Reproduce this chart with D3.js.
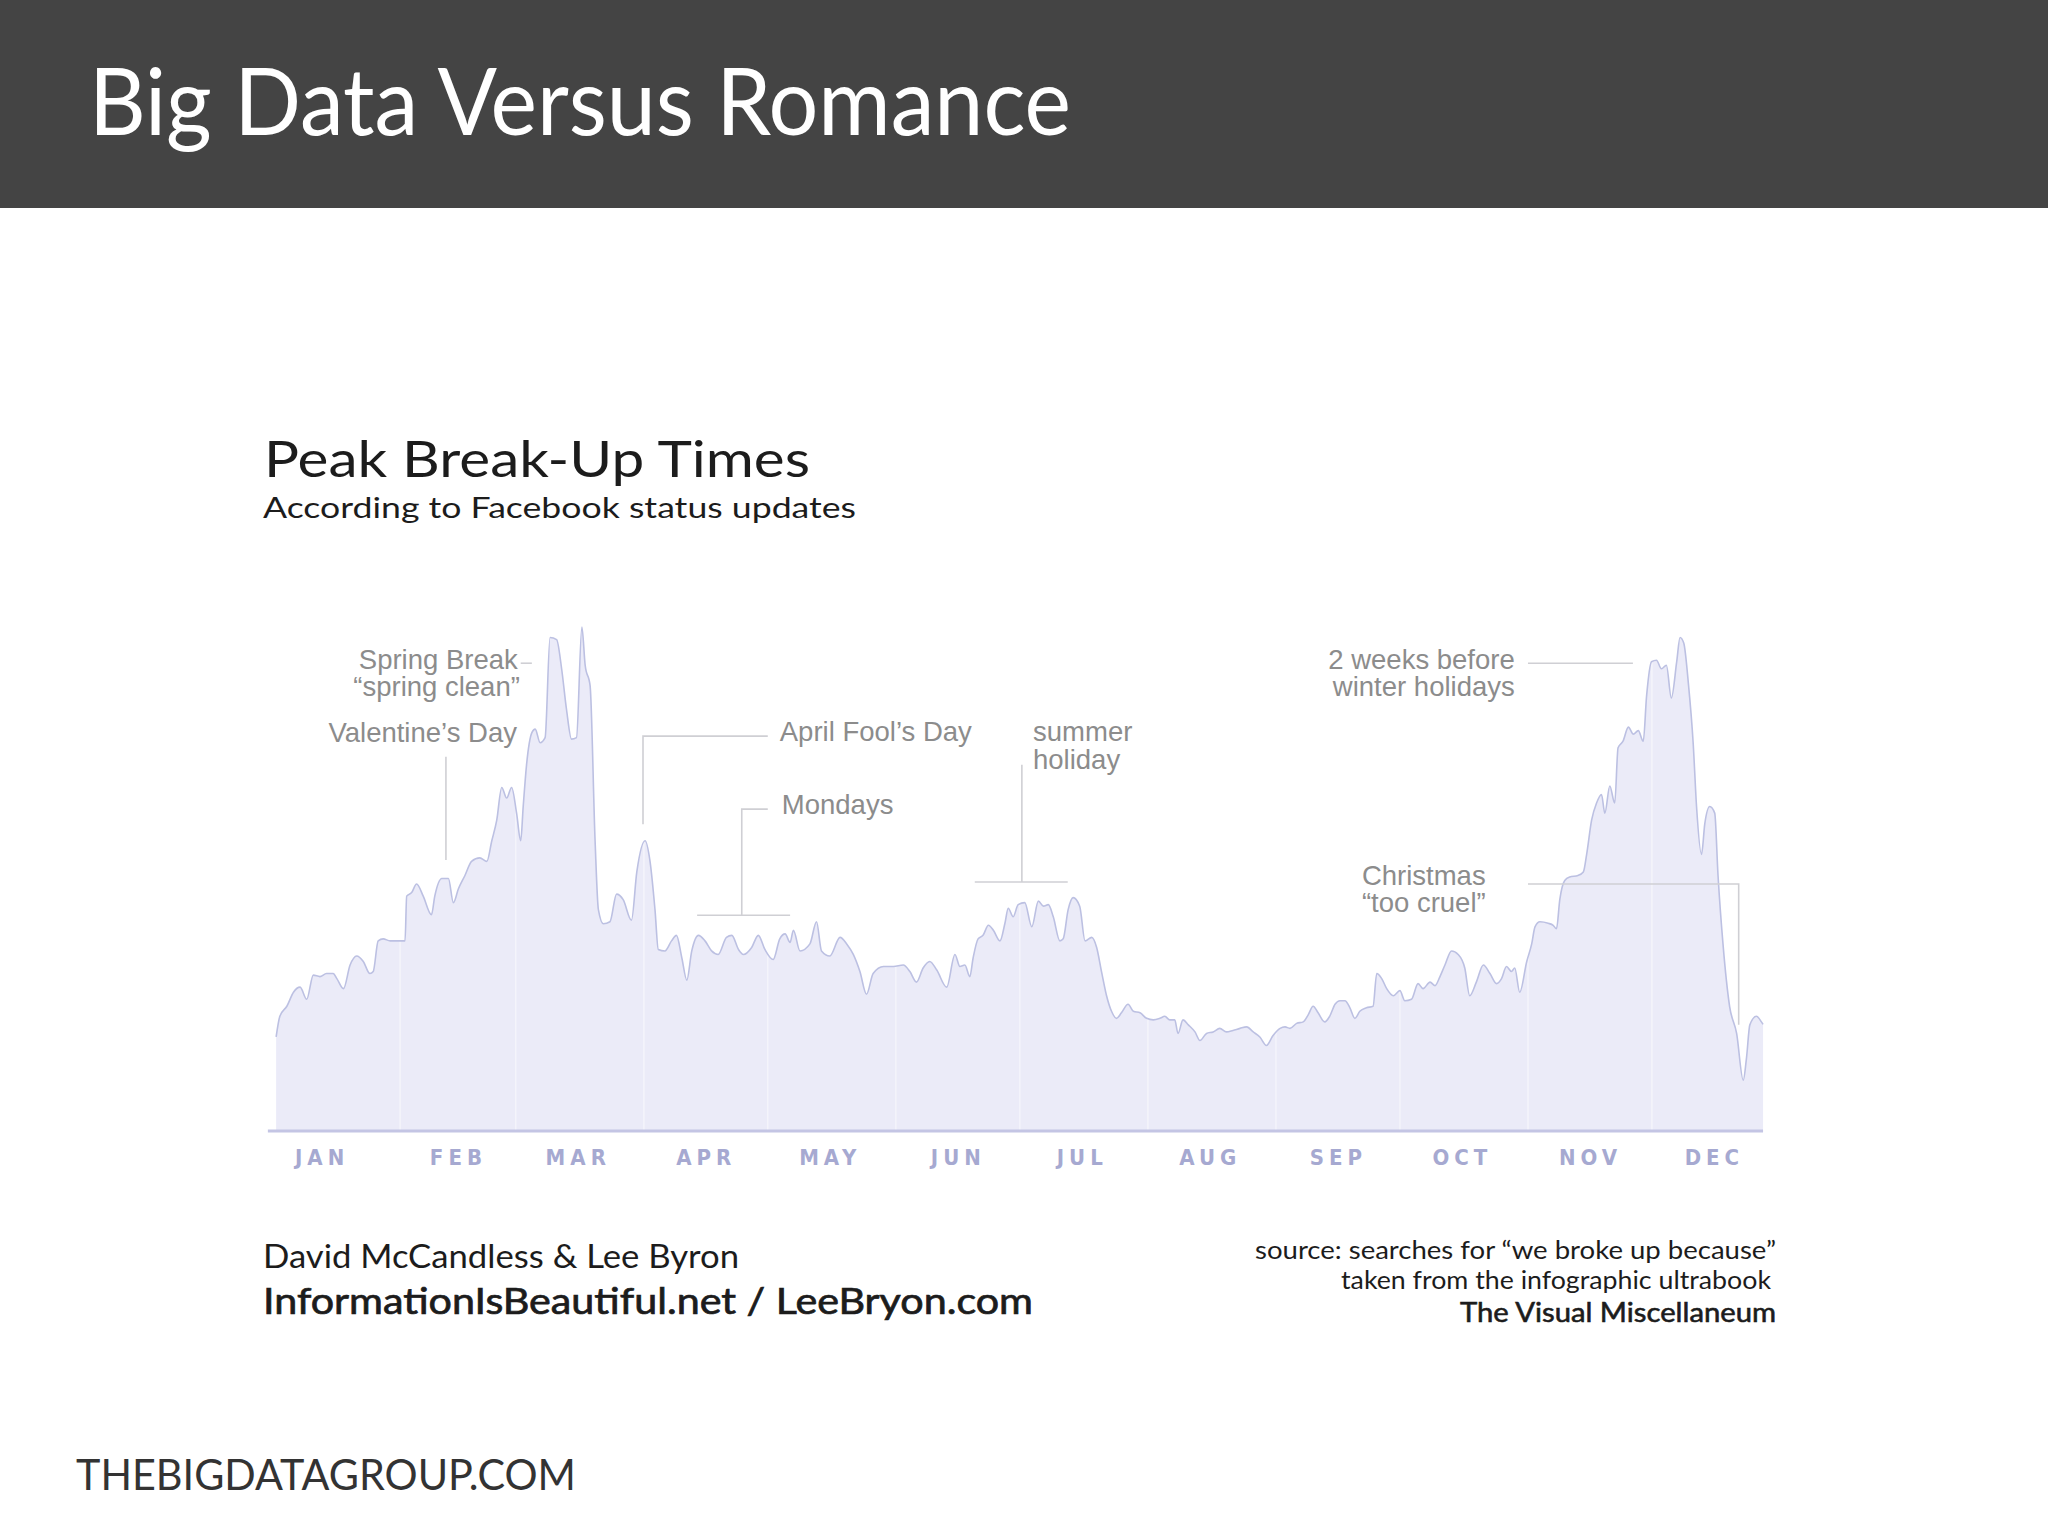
<!DOCTYPE html>
<html><head><meta charset="utf-8">
<script src="https://cdn.jsdelivr.net/npm/d3@7"></script>
<style>html,body{margin:0;padding:0;background:#fff;} svg{display:block;}</style>
</head><body>
<svg id="c" width="2048" height="1536"></svg>
<script>
// ---- data (day of year, relative break-up index; peak = 100) ----
const days = [1.0,1.9,3.6,5.2,6.8,8.4,10.0,11.6,13.2,14.8,15.7,17.3,18.9,20.5,22.1,23.7,24.5,25.7,26.9,28.6,30.2,32.2,32.6,33.8,35.0,36.6,38.6,39.4,41.1,42.7,43.9,45.1,46.7,48.3,50.3,52.0,53.2,54.4,55.6,56.8,58.0,59.2,60.2,60.8,61.6,62.9,63.7,64.9,66.1,67.3,68.9,70.1,71.3,72.5,73.7,75.0,75.8,77.0,78.2,79.0,80.2,81.8,83.4,85.0,87.0,88.3,90.3,91.5,
92.7,93.5,95.1,96.7,97.9,99.2,100.4,101.6,103.2,104.8,106.4,108.0,110.0,111.3,112.9,114.1,116.1,117.7,119.3,121.3,122.9,124.2,125.4,126.2,127.8,130.2,131.8,133.0,135.0,137.5,139.1,140.7,142.3,143.9,145.5,148.0,150.4,152.8,154.4,156.0,157.6,159.2,160.9,163.3,165.3,166.5,167.7,168.9,169.7,170.9,172.1,173.4,174.6,176.2,177.4,178.2,179.4,180.6,
182.2,183.9,185.5,186.7,187.9,189.1,190.7,191.5,192.7,193.9,195.5,196.8,198.4,199.6,200.8,202.0,203.2,204.4,205.6,207.2,208.5,210.1,211.7,213.3,214.9,216.1,217.3,218.5,219.3,220.5,221.8,223.4,224.6,226.2,227.8,229.4,231.0,232.6,234.3,235.9,237.5,239.1,240.7,242.3,244.0,245.2,246.4,248.0,249.6,250.8,252.0,253.2,254.8,256.0,257.3,258.5,259.7,260.9,262.1,263.3,264.9,266.5,267.4,268.6,
269.8,271.4,273.0,274.2,275.8,277.4,278.6,280.3,281.5,282.7,283.9,285.5,287.1,288.7,289.9,291.5,293.2,294.8,296.4,297.6,298.8,300.0,300.8,302.0,303.7,304.9,305.7,306.9,308.9,310.1,310.9,311.7,312.9,314.1,316.1,317.4,318.2,319.4,320.6,321.8,322.6,323.8,325.0,325.8,327.0,328.3,329.5,330.7,331.9,332.7,333.9,335.1,336.3,337.5,338.7,340.0,340.8,341.7,342.8,344.0,344.8,346.0,346.8,348.0,349.2,350.0,351.2,352.8,354.5,356.1,356.9,357.7,359.3,360.5,360.9];
const values = [18.5,22.6,24.6,27.4,28.4,26,30.8,30.5,31.1,31.1,30.1,28.1,32.8,34.6,33.5,31.1,31.5,37.6,38,37.6,37.6,37.6,46.5,47.2,48.9,46.5,42.8,46.5,50,50,45.2,47.9,50.6,53.4,54.1,53.4,57.5,61.6,68.1,66,68.1,63,57.5,64.3,72.5,79,79.7,77,78,97.9,97.5,91.7,83.5,77.7,78,100,92.4,88.3,57.5,43.8,41,41.4,46.9,45.8,41.7,51.3,57.5,53.4,
43.8,35.9,35.6,37.6,38.7,34.2,29.8,35.6,38.7,37.6,35.6,34.9,38.3,38.7,35.9,34.9,36.3,38.7,35.9,33.9,38,39,37.3,39.7,35.6,37,41.4,35.6,34.6,38.3,37,34.9,31.5,27.0,31.1,32.5,32.5,32.8,31.5,29.4,32.2,33.5,31.8,28.4,34.9,32.5,32.8,30.5,34.2,38,38.7,40.7,39.7,37.6,41.1,44.1,42.4,44.8,
45.2,40.4,45.5,44.5,44.8,42.4,37.6,38,43.8,46.2,44.5,37.6,38.3,36.3,31.4,26.7,23.6,22.2,23.3,25,23.6,23.3,22.2,21.9,22.2,22.6,21.9,21.9,19.2,21.9,20.9,19.5,17.8,19.2,19.5,20.2,19.5,19.8,20.2,20.5,19.5,18.5,16.8,18.8,20.2,20.5,20.2,21.2,21.5,22.9,24.6,23.3,21.5,22.6,25,25.7,25.7,24.3,22.2,23.6,24.3,24.6,31.1,30.1,
28.1,26.7,27.7,25.7,26,29.1,28.1,29.4,28.7,30.5,32.8,35.6,34.9,32.2,26.7,29.4,32.8,31.1,29.1,30.1,32.5,31.5,32.2,27.4,33.5,37,40.4,41.4,41.1,40.7,40,45.8,49.6,50.3,50.6,51.3,54.8,61.6,65,66.7,63,68.4,65,76,77.3,80.1,78.7,79.4,77.3,86.2,93.1,93.4,91.7,92.4,85.9,93.1,97.9,96.8,89,76.7,64.3,54.8,60.9,64.3,63,50.6,37,24.6,19.2,9.9,14.4,20.9,22.6,21.5,21];

const monthLabels = ["JAN","FEB","MAR","APR","MAY","JUN","JUL","AUG","SEP","OCT","NOV","DEC"];
const monthTickDays = [12,45,74,105,135,166,196,227,258,288,319,349];
const monthStartDays = [31,59,90,120,151,181,212,243,273,304,334];

// annotations in data units (day, value)
const annoTexts = [
  {t:"Spring Break", d:59.5, v:91.7, a:"end"},
  {t:"\u201Cspring clean\u201D", d:60.0, v:86.3, a:"end"},
  {t:"Valentine\u2019s Day", d:59.3, v:77.1, a:"end"},
  {t:"April Fool\u2019s Day", d:122.9, v:77.3, a:"start"},
  {t:"Mondays", d:123.4, v:62.9, a:"start"},
  {t:"summer", d:184.2, v:77.3, a:"start"},
  {t:"holiday", d:184.2, v:71.8, a:"start"},
  {t:"2 weeks before", d:300.8, v:91.7, a:"end"},
  {t:"winter holidays", d:300.8, v:86.3, a:"end"},
  {t:"Christmas", d:263.8, v:48.7, a:"start"},
  {t:"\u201Ctoo cruel\u201D", d:263.8, v:43.3, a:"start"}
];
const annoLines = [
  [[60.2,92.8],[62.9,92.8]],
  [[42.1,74.2],[42.1,53.7]],
  [[120.0,78.3],[89.8,78.3],[89.8,60.8]],
  [[120.0,63.8],[113.7,63.8],[113.7,42.7]],
  [[102.9,42.7],[125.4,42.7]],
  [[181.5,72.6],[181.5,49.3]],
  [[170.1,49.3],[192.6,49.3]],
  [[304.0,92.8],[329.4,92.8]],
  [[304.0,48.9],[355.0,48.9],[355.0,20.9]]
];

const data = days.map((d,i)=>({d, v:values[i]}));

const svg = d3.select("#c");
const x = d3.scaleLinear().domain([0,365]).range([272,1780]);
const y = d3.scaleLinear().domain([0,100]).range([1130,627]);

// header
svg.append("rect").attr("x",0).attr("y",0).attr("width",2048).attr("height",208).attr("fill","#444444");
svg.append("text").attr("x",89).attr("y",135)
  .attr("font-family","'Gill Sans','Lato',sans-serif").attr("font-size",94)
  .attr("fill","#fff").attr("textLength",982).attr("lengthAdjust","spacingAndGlyphs")
  .text("Big Data Versus Romance");

// chart titles
svg.append("text").attr("x",264).attr("y",477)
  .attr("font-family","Lato,sans-serif").attr("font-size",50).attr("fill","#1c1c1c")
  .attr("textLength",546).attr("lengthAdjust","spacingAndGlyphs").text("Peak Break-Up Times");
svg.append("text").attr("x",263).attr("y",518)
  .attr("font-family","Lato,sans-serif").attr("font-size",29).attr("fill","#1c1c1c")
  .attr("textLength",593).attr("lengthAdjust","spacingAndGlyphs").text("According to Facebook status updates");

// area
const area = d3.area().x(p=>x(p.d)).y0(y(0)).y1(p=>y(p.v)).curve(d3.curveMonotoneX);
const line = d3.line().x(p=>x(p.d)).y(p=>y(p.v)).curve(d3.curveMonotoneX);

svg.append("clipPath").attr("id","areaClip").append("path").attr("d",area(data));
svg.append("path").attr("d",area(data)).attr("fill","#ebebf8");
svg.append("g").attr("clip-path","url(#areaClip)")
  .selectAll("line").data(monthStartDays).join("line")
  .attr("x1",d=>x(d)).attr("x2",d=>x(d)).attr("y1",y(0)).attr("y2",y(100))
  .attr("stroke","#f4f4fb").attr("stroke-width",1.5);
svg.append("path").attr("d",line(data)).attr("fill","none")
  .attr("stroke","#bcc0e2").attr("stroke-width",1.6);

// baseline
svg.append("line").attr("x1",x(-1)).attr("x2",x(days[days.length-1]))
  .attr("y1",y(0)+1).attr("y2",y(0)+1).attr("stroke","#c4c5e4").attr("stroke-width",3);

// month axis
const axis = d3.axisBottom(x).tickValues(monthTickDays)
  .tickFormat((d,i)=>monthLabels[i]).tickSize(0).tickPadding(19);
const ag = svg.append("g").attr("transform",`translate(0,${y(0)})`).call(axis);
ag.select(".domain").remove();
ag.selectAll("text").attr("font-family","'Liberation Sans Narrow','DejaVu Sans Condensed',sans-serif")
  .attr("font-size",22).attr("fill","#a6a9d1").attr("letter-spacing",5).attr("font-weight","bold");

// annotations
const lg = d3.line().x(p=>x(p[0])).y(p=>y(p[1]));
svg.append("g").selectAll("path").data(annoLines).join("path")
  .attr("d",lg).attr("fill","none").attr("stroke","#cfcfd4").attr("stroke-width",1.6);
svg.append("g").selectAll("text").data(annoTexts).join("text")
  .attr("x",a=>x(a.d)).attr("y",a=>y(a.v)).attr("text-anchor",a=>a.a)
  .attr("font-family","'Liberation Sans',Arial,sans-serif").attr("font-size",27.5)
  .attr("fill","#8c8c8c").text(a=>a.t);

// credits
svg.append("text").attr("x",263).attr("y",1268)
  .attr("font-family","Lato,sans-serif").attr("font-size",33).attr("fill","#1c1c1c")
  .attr("textLength",476).attr("lengthAdjust","spacingAndGlyphs").text("David McCandless & Lee Byron");
svg.append("text").attr("x",263).attr("y",1314)
  .attr("font-family","Lato,sans-serif").attr("font-size",36).attr("fill","#1c1c1c")
  .attr("stroke","#1c1c1c").attr("stroke-width",0.7)
  .attr("textLength",770).attr("lengthAdjust","spacingAndGlyphs").text("InformationIsBeautiful.net / LeeBryon.com");
svg.append("text").attr("x",1776).attr("y",1259).attr("text-anchor","end")
  .attr("font-family","Lato,sans-serif").attr("font-size",25).attr("fill","#1c1c1c")
  .attr("textLength",521).attr("lengthAdjust","spacingAndGlyphs").text("source: searches for \u201Cwe broke up because\u201D");
svg.append("text").attr("x",1771).attr("y",1289).attr("text-anchor","end")
  .attr("font-family","Lato,sans-serif").attr("font-size",25).attr("fill","#1c1c1c")
  .attr("textLength",430).attr("lengthAdjust","spacingAndGlyphs").text("taken from the infographic ultrabook");
svg.append("text").attr("x",1776).attr("y",1322).attr("text-anchor","end")
  .attr("font-family","Lato,sans-serif").attr("font-size",27).attr("fill","#1c1c1c")
  .attr("stroke","#1c1c1c").attr("stroke-width",0.6)
  .attr("textLength",316).attr("lengthAdjust","spacingAndGlyphs").text("The Visual Miscellaneum");

// footer
svg.append("text").attr("x",76).attr("y",1490)
  .attr("font-family","'Gill Sans','Lato',sans-serif").attr("font-size",43).attr("fill","#333")
  .attr("textLength",500).attr("lengthAdjust","spacingAndGlyphs").text("THEBIGDATAGROUP.COM");
</script>
</body></html>
